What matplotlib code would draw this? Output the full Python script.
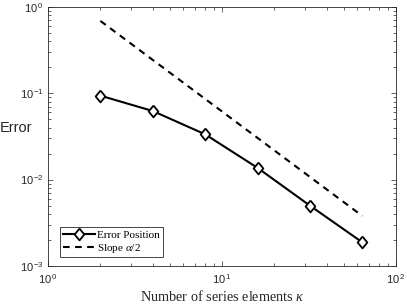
import math
import matplotlib
matplotlib.use("Agg")
import matplotlib.pyplot as plt
from matplotlib.ticker import LogLocator, FuncFormatter, NullFormatter

# data
n_elements = [2, 4, 8, 16, 32, 64]
err_position = [0.094, 0.0624, 0.0335, 0.0137, 0.0050, 0.00188]
slope_x = [2, 64]
slope_y = [0.69, 0.0038]

plt.rcParams.update({
    "font.family": "Liberation Sans",
    "mathtext.fontset": "custom",
    "mathtext.rm": "Liberation Sans",
    "mathtext.it": "Liberation Serif:italic",
    "mathtext.bf": "Liberation Sans:bold",
})

GREY = "#262626"
# slightly tall diamond, like matlab's
DIAMOND = [(0, 1), (0.82, 0), (0, -1), (-0.82, 0), (0, 1)]


def decade_label(v, pos):
    exp = int(round(math.log10(v)))
    return r"$\mathrm{10}^{\,\mathrm{%d}}$" % exp


fig = plt.figure(figsize=(4.07, 3.05), dpi=100)
ax = fig.add_axes([0.118, 0.128, 0.855, 0.849])

ax.plot(n_elements, err_position, "-", color="black", lw=1.5,
        marker=DIAMOND, ms=8.5, mfc="white", mec="black", mew=1.3,
        label="Error Position")
ax.plot(slope_x, slope_y, "--", color="black", lw=1.5, dashes=(3.2, 2.6),
        label=r"Slope $\alpha$/2")

ax.set_xscale("log")
ax.set_yscale("log")
ax.set_xlim(1, 100)
ax.set_ylim(1e-3, 1)

for axis in (ax.xaxis, ax.yaxis):
    axis.set_major_locator(LogLocator(base=10, numticks=10))
    axis.set_minor_locator(LogLocator(base=10, subs=range(2, 10), numticks=10))
    axis.set_major_formatter(FuncFormatter(decade_label))
    axis.set_minor_formatter(NullFormatter())

ax.tick_params(which="both", direction="in", top=True, right=True,
               labelsize=8, colors=GREY, width=0.5)
ax.tick_params(which="major", length=3.5)
ax.tick_params(which="minor", length=2)
ax.tick_params(axis="x", pad=5)
ax.tick_params(axis="y", pad=3)
for sp in ax.spines.values():
    sp.set_linewidth(0.6)
    sp.set_color(GREY)

ax.set_xlabel(r"Number of series elements $\kappa$", family="Liberation Serif",
              fontsize=10.3, labelpad=2, color=GREY)
fig.text(0.0, 0.58, "Error", fontsize=10.5, ha="left", va="center", color=GREY)

leg = ax.legend(loc="lower left", bbox_to_anchor=(0.034, 0.033),
                borderaxespad=0, prop={"family": "Liberation Serif", "size": 8},
                fancybox=False, edgecolor=GREY, framealpha=1,
                handlelength=2.9, handletextpad=0.2, borderpad=0.25,
                labelspacing=0.15)
leg.get_frame().set_linewidth(0.6)

fig.savefig("out.png", dpi=100)
